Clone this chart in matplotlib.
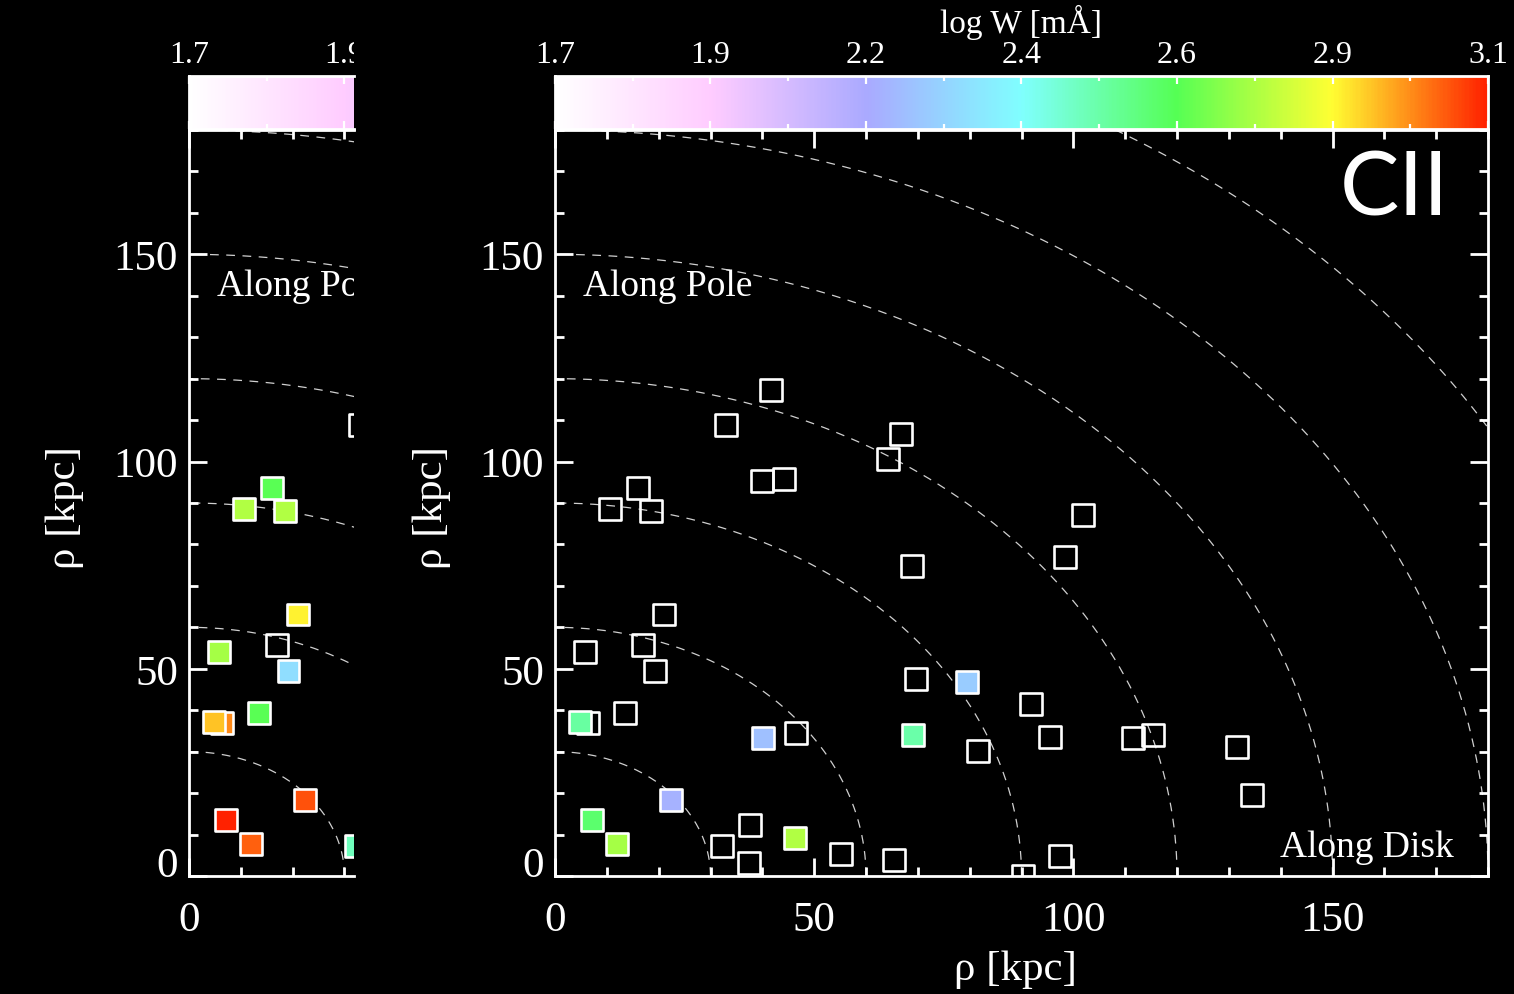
import numpy as np
import matplotlib
matplotlib.use("Agg")
import matplotlib.pyplot as plt
from matplotlib.colors import LinearSegmentedColormap, Normalize
from matplotlib.ticker import MultipleLocator, FixedLocator
from matplotlib.transforms import Bbox, TransformedBbox

plt.rcParams['font.family'] = ['Liberation Serif', 'DejaVu Serif']

# sightline positions (kpc), shared by both panels
rho_disk = [41.6, 32.9, 66.8, 64.3, 39.9, 44.1, 16.0, 10.7, 18.6, 101.9,
            98.4, 68.9, 21.0, 5.7, 16.9, 19.2, 69.7, 79.5, 91.8, 13.5,
            6.4, 4.8, 40.1, 46.5, 69.1, 95.5, 81.6, 22.3, 7.1, 12.0,
            37.7, 32.3, 37.5, 46.3, 55.1, 65.4, 90.2, 97.4, 111.6, 115.4,
            131.6, 134.5]
rho_pole = [117.3, 108.8, 106.7, 100.7, 95.2, 95.9, 93.6, 88.5, 88.0, 87.2,
            76.9, 74.9, 63.1, 54.1, 55.7, 49.4, 47.5, 46.8, 41.6, 39.3,
            36.9, 37.1, 33.3, 34.5, 34.0, 33.5, 30.1, 18.3, 13.5, 7.7,
            12.3, 7.2, 3.1, 9.2, 5.4, 3.9, 0.0, 4.8, 33.3, 34.1,
            31.1, 19.5]

nan = np.nan
# log W [mA]; nan = non-detection (open square)
logw_left = [nan, nan, nan, nan, nan, nan, 2.64, 2.76, 2.76, nan,
             nan, nan, 2.88, 2.74, nan, 2.31, nan, nan, nan, 2.64,
             2.99, 2.93, nan, nan, nan, nan, nan, 3.05, 3.10, 3.03,
             nan, 2.49, nan, nan, nan, nan, nan, nan, nan, nan,
             nan, nan]
logw_cii = [nan, nan, nan, nan, nan, nan, nan, nan, nan, nan,
            nan, nan, nan, nan, nan, nan, nan, 2.26, nan, nan,
            nan, 2.53, 2.23, nan, 2.52, nan, nan, 2.19, 2.60, 2.74,
            nan, nan, nan, 2.76, nan, nan, nan, nan, nan, nan,
            nan, nan]

radii = [30, 60, 90, 120, 150, 180, 210]
cb_ticks = [1.7, 1.9333, 2.1667, 2.4, 2.6333, 2.8667, 3.1]
cb_labels = ['1.7', '1.9', '2.2', '2.4', '2.6', '2.9', '3.1']
cb_colors = ['#ffffff', '#ffccff', '#aaaaff', '#80ffff', '#55ff55', '#ffff33', '#ff2200']

wmin, wmax = 1.7, 3.1
cmap = LinearSegmentedColormap.from_list(
    'logw', [((t - wmin) / (wmax - wmin), c) for t, c in zip(cb_ticks, cb_colors)])
norm = Normalize(wmin, wmax)

W, H = 1514, 995
fig = plt.figure(figsize=(W / 100, H / 100), dpi=100, facecolor='black')

def px_rect(x0, y0, x1, y1):
    return [x0 / W, 1 - y1 / H, (x1 - x0) / W, (y1 - y0) / H]

ax_l = fig.add_axes(px_rect(189, 131, 354, 877))
ax_r = fig.add_axes(px_rect(555, 131, 1488, 877))
cb_l = fig.add_axes(px_rect(189, 77, 354, 130))
cb_r = fig.add_axes(px_rect(555, 77, 1488, 130))

x = np.array(rho_disk)
y = np.array(rho_pole)
theta = np.linspace(0, np.pi / 2, 400)


def panel(ax, vals, xmax):
    ax.set_facecolor('black')
    for r in radii:
        ax.plot(r * np.cos(theta), r * np.sin(theta), color='#d0d0d0',
                lw=0.9, dashes=(7, 6), zorder=1)
    v = np.array(vals)
    op = np.isnan(v)
    ax.scatter(x[op], y[op], s=250, marker='s', facecolors='none',
               edgecolors='white', linewidths=1.9, zorder=3)
    ax.scatter(x[~op], y[~op], c=v[~op], cmap=cmap, norm=norm, s=250,
               marker='s', edgecolors='white', linewidths=1.9, zorder=4)
    ax.set_xlim(0, xmax)
    ax.set_ylim(0, 180)
    for sp in ax.spines.values():
        sp.set_color('white')
        sp.set_linewidth(2)
    ax.xaxis.set_major_locator(MultipleLocator(50))
    ax.xaxis.set_minor_locator(MultipleLocator(10))
    ax.yaxis.set_major_locator(MultipleLocator(50))
    ax.yaxis.set_minor_locator(MultipleLocator(10))
    ax.tick_params(which='both', direction='in', top=True, right=True,
                   colors='white', width=2, labelsize=31)
    ax.tick_params(which='major', length=13)
    ax.tick_params(which='minor', length=6.5)
    ax.tick_params(axis='x', pad=18)
    ax.tick_params(axis='y', pad=8)
    t = ax.text(5.4, 140.2, 'Along Pole', color='white', fontsize=27,
                va='baseline', clip_on=True, zorder=5)
    t.set_clip_box(ax.bbox)


panel(ax_r, logw_cii, 180)
panel(ax_l, logw_left, 165 / 5.183)
ax_l.spines['right'].set_visible(False)
ax_l.tick_params(which='both', right=False)

ax_r.text(173.4, 4.8, 'Along Disk', color='white', fontsize=27,
          ha='right', va='baseline', zorder=5)
ax_r.text(172.5, 159.5, 'CII', color='white', fontsize=64, family='Lato',
          ha='right', va='baseline', zorder=5)


def colorbar(ax, hi):
    grad = np.linspace(wmin, hi, 600)[None, :]
    ax.imshow(grad, aspect='auto', cmap=cmap, norm=norm,
              extent=[wmin, hi, 0, 1], origin='lower', interpolation='bilinear')
    ax.set_xlim(wmin, hi)
    ax.set_ylim(0, 1)
    ax.set_yticks([])
    ax.xaxis.set_major_locator(FixedLocator(cb_ticks))
    ax.xaxis.set_minor_locator(FixedLocator(
        [(a + b) / 2 for a, b in zip(cb_ticks[:-1], cb_ticks[1:])]))
    ax.set_xticklabels(cb_labels)
    for sp in ax.spines.values():
        sp.set_color('white')
        sp.set_linewidth(2)
    ax.tick_params(axis='x', which='both', direction='in', top=True,
                   bottom=True, labeltop=True, labelbottom=False,
                   colors='white', width=1.6, labelsize=23, pad=5)
    ax.tick_params(axis='x', which='major', length=6)
    ax.tick_params(axis='x', which='minor', length=3.5)


colorbar(cb_r, wmax)
colorbar(cb_l, wmin + (wmax - wmin) * 165 / 933)
cb_l.spines['right'].set_visible(False)

fig.text(1021.5 / W, 1 - 33 / H, 'log W [mÅ]', color='white', fontsize=24,
         ha='center', va='baseline')
fig.text(1015 / W, 1 - 980 / H, 'ρ [kpc]', color='white', fontsize=31,
         ha='center', va='baseline')
fig.text(432 / W, 1 - 508 / H, 'ρ [kpc]', color='white', fontsize=31,
         ha='center', va='center', rotation=90)
fig.text(65 / W, 1 - 508 / H, 'ρ [kpc]', color='white', fontsize=31,
         ha='center', va='center', rotation=90)

fig.canvas.draw()

# the "0" label sits on the axis, as in the original
for ax in (ax_l, ax_r):
    locs = ax.yaxis.get_majorticklocs()
    for loc, tk in zip(locs, ax.yaxis.get_major_ticks()):
        if loc == 0:
            tk.label1.set_verticalalignment('baseline')

# the left panel is cut at its right edge
clip = TransformedBbox(Bbox([[0, 0], [354 / W, 1]]), fig.transFigure)
for tk in cb_l.xaxis.get_major_ticks():
    tk.label2.set_clip_on(True)
    tk.label2.set_clip_box(clip)

fig.savefig('out.png', dpi=100, facecolor='black')
